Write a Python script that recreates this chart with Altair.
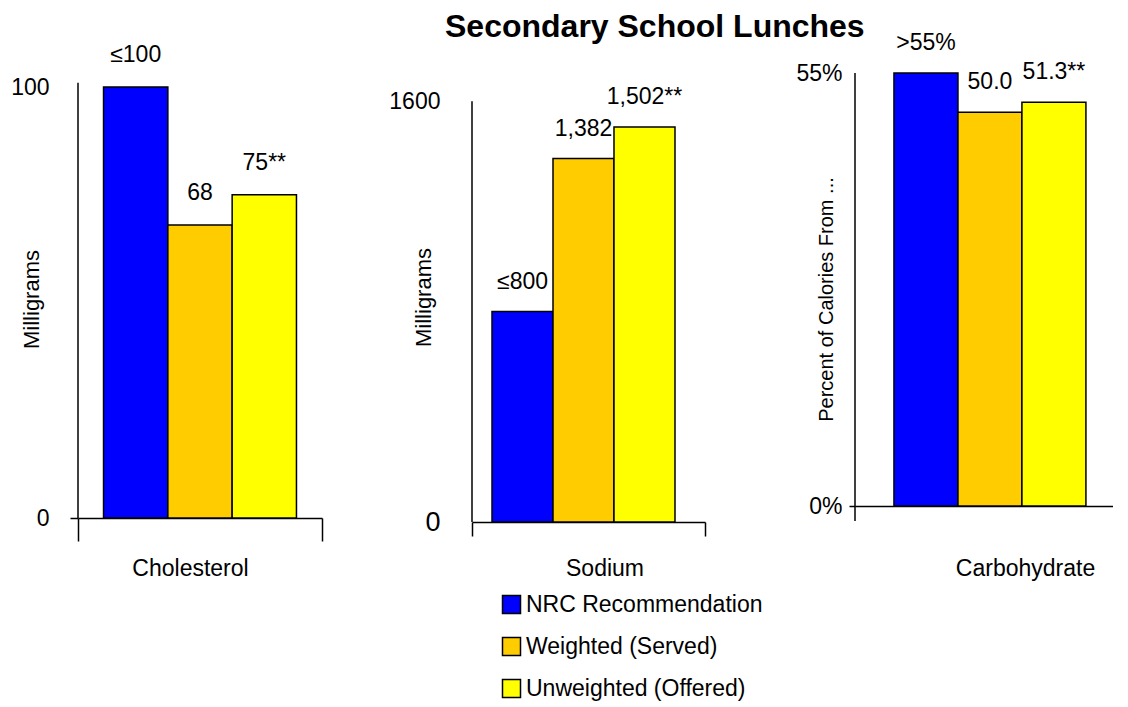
import altair as alt
import pandas as pd

series = ["NRC Recommendation", "Weighted (Served)", "Unweighted (Offered)"]
colors = ["#0000FF", "#FFCC00", "#FFFF00"]

nutrients = ["Cholesterol", "Sodium", "Carbohydrate"]
cholesterol_values = [100, 68, 75]
cholesterol_labels = ["≤100", "68", "75**"]
sodium_values = [800, 1382, 1502]
sodium_labels = ["≤800", "1,382", "1,502**"]
carb_values = [55, 50.0, 51.3]
carb_labels = [">55%", "50.0", "51.3**"]

y_titles = ["Milligrams", "Milligrams", "Percent of Calories From ..."]
y_ticks = [[0, 100], [0, 1600], [0, 55]]

FONT = "Liberation Sans"


def panel(nutrient, values, labels, ytitle, yticks, ymax, width, height,
          pad_outer, align, xtick, xlabpad, xlaboff, ylabpad, ytick, title_x, title_y,
          rule_lo, rule_hi, label_expr="format(datum.value, 'd')", zero_size=23,
          label_dy=-30, title_size=22):
    df = pd.DataFrame({
        "nutrient": [nutrient] * 3,
        "series": series,
        "value": values,
        "label": labels,
    })
    x = alt.X("nutrient:N",
              scale=alt.Scale(paddingInner=0, paddingOuter=0),
              axis=alt.Axis(title=None, labelAngle=0, tickBand="extent",
                            ticks=xtick > 0, tickSize=max(xtick, 1), tickColor="black",
                            tickWidth=1.5, domainColor="black", domainWidth=1.5,
                            labelPadding=xlabpad, labelOffset=xlaboff,
                            labelFontSize=23, labelBaseline="middle",
                            labelColor="black", grid=False))
    xo = alt.XOffset("series:N", sort=series,
                     scale=alt.Scale(paddingInner=0, paddingOuter=pad_outer,
                                     align=align))
    yaxis = alt.Axis(values=yticks, title=ytitle, titleX=title_x, titleY=title_y,
                     titleBaseline="middle", titleAlign="center",
                     titleFontSize=title_size, titleFontWeight="normal",
                     titleColor="black",
                     domain=False, grid=False, ticks=ytick > 0,
                     tickSize=max(ytick, 1), tickColor="black", tickWidth=1.5,
                     tickOpacity={"condition": {"test": "datum.value == 0", "value": 1},
                                  "value": 0},
                     labelPadding=ylabpad, labelColor="black", labelExpr=label_expr,
                     labelFontSize={"condition": {"test": "datum.value == 0",
                                                  "value": zero_size},
                                    "value": 23})
    y = alt.Y("value:Q", scale=alt.Scale(domain=[0, ymax], nice=False, zero=True),
              axis=yaxis)
    color = alt.Color("series:N", sort=series,
                      scale=alt.Scale(domain=series, range=colors),
                      legend=alt.Legend(title=None, orient="none", legendX=422,
                                        legendY=520, direction="vertical",
                                        symbolType="square", symbolSize=324,
                                        symbolStrokeColor="black",
                                        symbolStrokeWidth=1.5, symbolOpacity=1,
                                        labelFontSize=23, labelOffset=3,
                                        labelLimit=0,
                                        labelColor="black", rowPadding=17))
    base = alt.Chart(df)
    bars = base.mark_bar(stroke="black", strokeWidth=1.5, opacity=1).encode(
        x=x, xOffset=xo, y=y, color=color)
    text = base.mark_text(dy=label_dy, baseline="middle", fontSize=23,
                          color="black", font=FONT).encode(
        x=x, xOffset=xo, y=y, text="label:N")
    rule = alt.Chart(pd.DataFrame({"k": [0]})).mark_rule(
        color="black", strokeWidth=1.5).encode(
        x=alt.value(0),
        y=alt.YDatum(rule_lo, axis=yaxis),
        y2=alt.datum(rule_hi))
    return alt.layer(bars, text, rule).properties(width=width, height=height)


p1 = panel(nutrients[0], cholesterol_values, cholesterol_labels, y_titles[0],
           y_ticks[0], 100 * 445 / 431, 244, 445, 0.397, 0.5, 23, 27, -10, 21, 8,
           -47, 226, 0, 101, label_dy=-32)
p2 = panel(nutrients[1], sodium_values, sodium_labels, y_titles[1],
           y_ticks[1], 449 / 0.263, 233, 449, 0.41, 0.4, 14, 32, 16, 32, 0,
           -49, 224, 0, 1600, zero_size=27)
p3 = panel(nutrients[2], carb_values, carb_labels, y_titles[2],
           y_ticks[2], 55, 258, 433, 0.516, 0.59, 0, 62, 41, 7, 6,
           -29, 226, -1.9, 55, label_expr="datum.value + '%'", title_size=20)

chart = alt.hconcat(p1, p2, p3, spacing=150, bounds="flush").resolve_scale(
    x="independent", y="independent", xOffset="independent", color="shared"
).properties(
    title=alt.TitleParams("Secondary School Lunches", fontSize=32, fontWeight="bold",
                          anchor="start", frame="group", dx=367, offset=-12,
                          color="black", font=FONT),
    padding={"left": 2, "top": 3, "right": 0, "bottom": 0},
).configure(font=FONT).configure_view(stroke=None)

chart.save("out.html", embed_options={"renderer": "svg", "actions": False})
